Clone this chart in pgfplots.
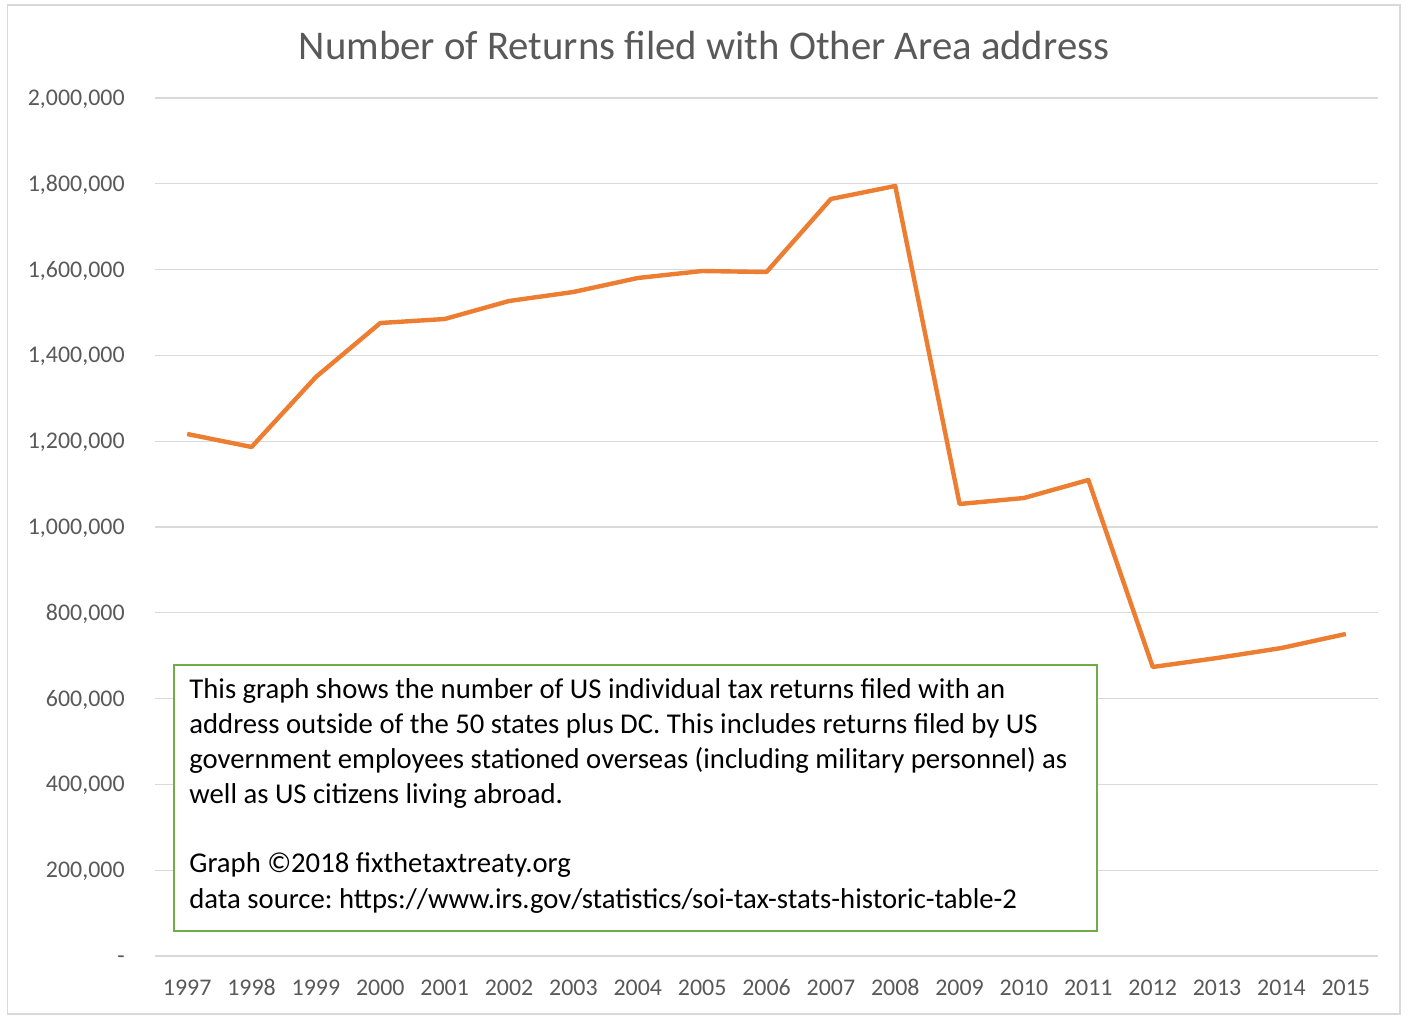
\documentclass[border=0pt]{standalone}
\usepackage{fontspec}
\setmainfont{Carlito}
\usepackage{pgfplots}
\pgfplotsset{compat=1.18}
\definecolor{ttl}{RGB}{89,89,89}
\definecolor{grd}{RGB}{217,217,217}
\definecolor{org}{RGB}{237,125,49}
\definecolor{grn}{RGB}{112,173,71}
\frenchspacing
\begin{document}
\begin{tikzpicture}
\useasboundingbox (0,0) rectangle (705bp,511.5bp);
\fill[white] (0,0) rectangle (705bp,511.5bp);
\draw[grd, line width=0.7bp] (3.75bp,4.5bp) rectangle (700bp,509bp);
\node[anchor=base, font=\fontsize{20.45}{25}\selectfont, text=ttl, inner sep=0pt] at (352bp,481.5bp) {Number of Returns filed with Other Area address};
\begin{axis}[at={(77.5bp,33.5bp)}, anchor=south west, scale only axis,
  width=611.5bp, height=429bp,
  xmin=-0.5, xmax=18.5, ymin=0, ymax=2000000,
  scaled y ticks=false,
  axis line style={draw=none}, major tick length=0pt,
  ymajorgrids, grid style={grd, line width=0.65bp},
  ytick={0,200000,400000,600000,800000,1000000,1200000,1400000,1600000,1800000,2000000},
  yticklabels={{-\hspace{4.5bp}},{200,000},{400,000},{600,000},{800,000},{1,000,000},{1,200,000},{1,400,000},{1,600,000},{1,800,000},{2,000,000}},
  xtick={0,...,18},
  xticklabels={1997,1998,1999,2000,2001,2002,2003,2004,2005,2006,2007,2008,2009,2010,2011,2012,2013,2014,2015},
  tick label style={font=\fontsize{12}{14}\selectfont, text=ttl, inner sep=0pt, text height=0.632em, text depth=0pt},
  xticklabel style={anchor=north, yshift=-13.5bp},
  yticklabel style={anchor=east, xshift=-15bp, yshift=-0.6bp},
]
\addplot[org, line width=2.2bp, line join=round] coordinates {
(0,1216800) (1,1186500) (2,1349700) (3,1475500) (4,1484800) (5,1526800)
(6,1547800) (7,1580400) (8,1596700) (9,1594400) (10,1764600) (11,1794900)
(12,1053600) (13,1067600) (14,1109600) (15,673700) (16,694600) (17,717900)
(18,750600)};
\end{axis}
\draw[grn, line width=1bp, fill=white] (87bp,45.75bp) rectangle (548.5bp,179bp);
\begin{scope}[every node/.style={anchor=base west, inner sep=0pt, font=\fontsize{14.4}{17.5}\selectfont}]
\node at (94.5bp,162bp) {This graph shows the number of US individual tax returns filed with an};
\node at (94.5bp,144.75bp) {address outside of the 50 states plus DC. This includes returns filed by US};
\node at (94.5bp,127.25bp) {government employees stationed overseas (including military personnel) as};
\node at (94.5bp,109.5bp) {well as US citizens living abroad.};
\node at (94.5bp,75.15bp) {Graph ©2018 fixthetaxtreaty.org};
\node at (94.5bp,57.35bp) {data source: https://www.irs.gov/statistics/soi-tax-stats-historic-table-2};
\end{scope}
\end{tikzpicture}
\end{document}
